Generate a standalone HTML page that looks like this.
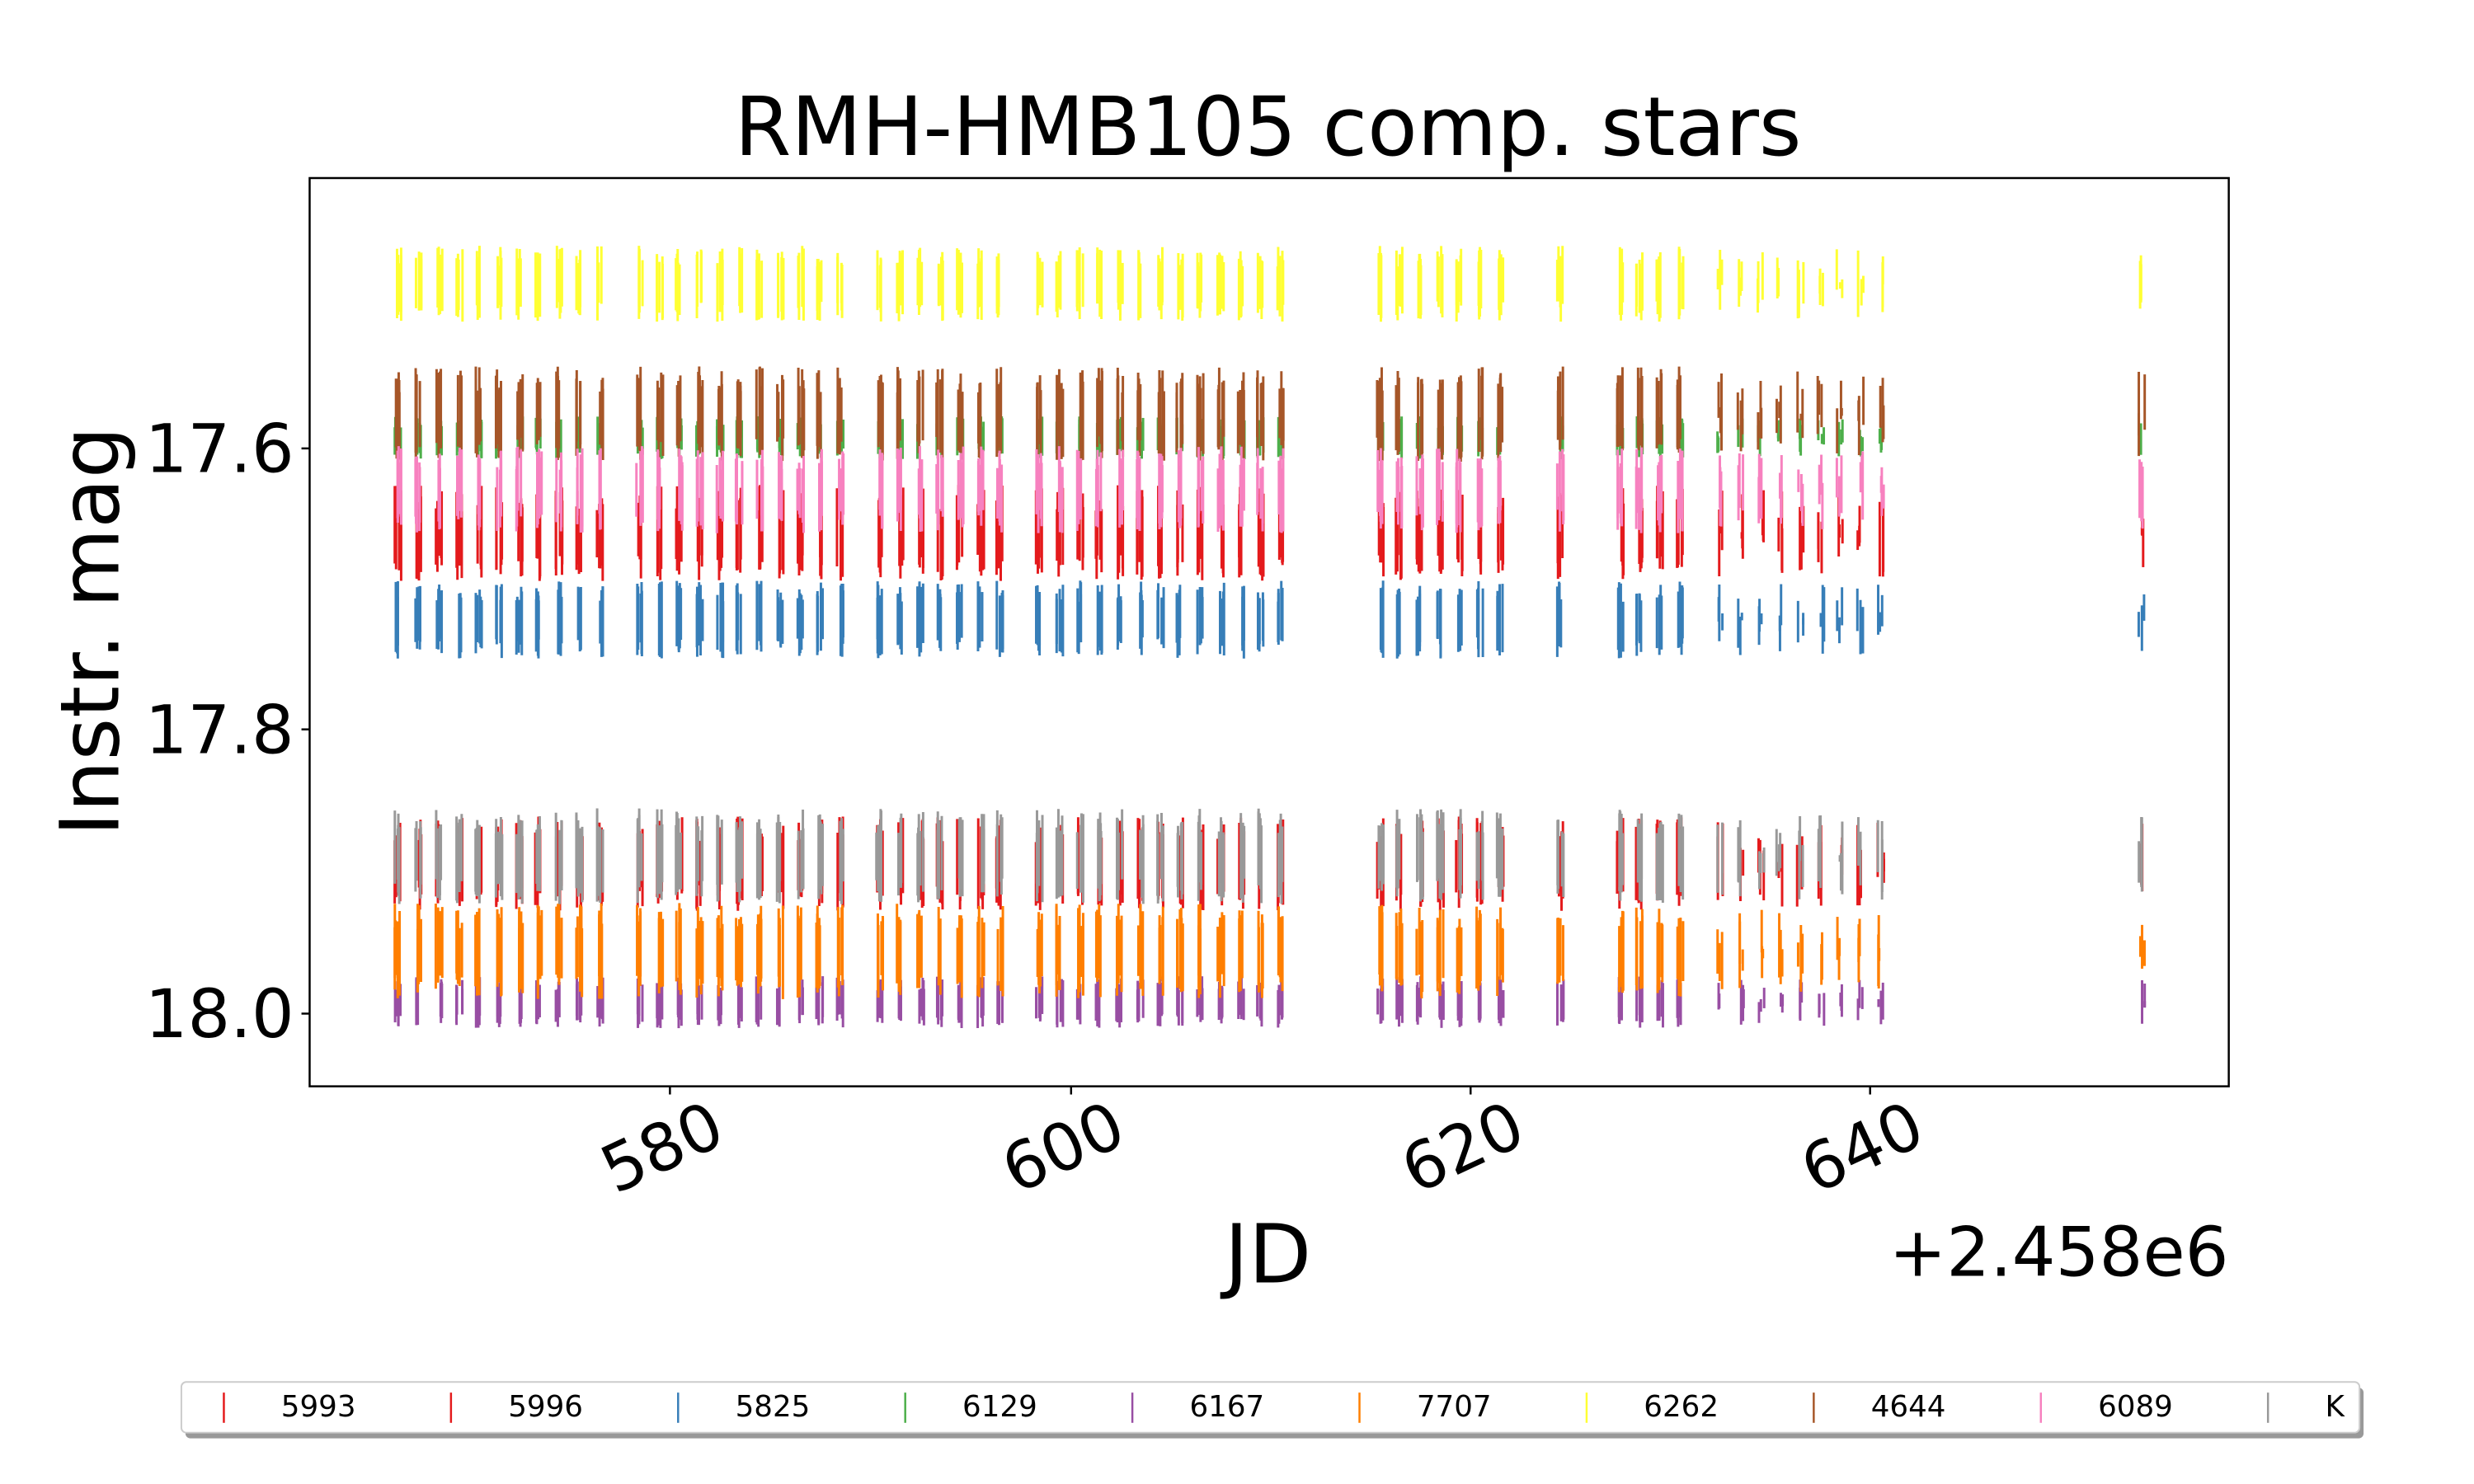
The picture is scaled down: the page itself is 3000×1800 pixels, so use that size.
<!DOCTYPE html>
<html><head><meta charset="utf-8"><style>
html,body{margin:0;padding:0;background:#fff;width:3000px;height:1800px;overflow:hidden}
svg{display:block}
text{font-family:"DejaVu Sans","Liberation Sans",sans-serif;fill:#000}
</style></head><body>
<svg id="s" width="3000" height="1800" xmlns="http://www.w3.org/2000/svg">
<rect width="3000" height="1800" fill="#fff"/>
<g transform="scale(0.9907)">
<text x="1552" y="190" font-size="100" text-anchor="middle">RMH-HMB105 comp. stars</text>
<g id="data"></g>
<rect x="379" y="218" width="2349" height="1112" fill="none" stroke="#000" stroke-width="2.5"/>
<g stroke="#000" stroke-width="2.5">
<line x1="369" y1="549" x2="379" y2="549"/><line x1="369" y1="893" x2="379" y2="893"/><line x1="369" y1="1241" x2="379" y2="1241"/>
<line x1="820" y1="1330" x2="820" y2="1340"/><line x1="1311" y1="1330" x2="1311" y2="1340"/><line x1="1800" y1="1330" x2="1800" y2="1340"/><line x1="2289" y1="1330" x2="2289" y2="1340"/>
</g>
<g font-size="82" text-anchor="end">
<text x="360" y="578">17.6</text><text x="360" y="922">17.8</text><text x="360" y="1270">18.0</text>
</g>
<g font-size="80" text-anchor="middle">
<text transform="translate(822,1430) rotate(-25)">580</text>
<text transform="translate(1313,1430) rotate(-25)">600</text>
<text transform="translate(1802,1430) rotate(-25)">620</text>
<text transform="translate(2291,1430) rotate(-25)">640</text>
</g>
<text x="1552" y="1570" font-size="100" text-anchor="middle">JD</text>
<text x="2728" y="1562" font-size="84" text-anchor="end">+2.458e6</text>
<text transform="translate(145,773) rotate(-90)" font-size="100" text-anchor="middle">Instr. mag</text>
<rect x="227" y="1699" width="2666" height="62" rx="6" fill="#999"/>
<rect x="222" y="1692" width="2666" height="62" rx="6" fill="#fff" stroke="#ccc" stroke-width="2"/>
<g id="leg" font-size="36"></g>
</g>
</svg>
<script>
var cols={r:"#e41a1c",b:"#377eb8",g:"#4daf4a",p:"#984ea3",o:"#ff7f00",y:"#ffff33",br:"#a65628",pk:"#f781bf",gr:"#999999"};
var leg=[["5993","r"],["5996","r"],["5825","b"],["6129","g"],["6167","p"],["7707","o"],["6262","y"],["4644","br"],["6089","pk"],["K","gr"]];
var L=document.getElementById("leg"),h="";
leg.forEach(function(e,i){var x=274+i*278;h+='<line x1="'+x+'" y1="1705" x2="'+x+'" y2="1742" stroke="'+cols[e[1]]+'" stroke-width="2.5"/>';
h+='<text x="'+(x+70)+'" y="1734">'+e[0]+'</text>';});
L.innerHTML=h;
var bands=[["r",1005,1110],["r",599,706],["b",715,802],["g",512,560],["p",1198,1256],["o",1111,1218],["y",305,390],["br",454,560],["pk",551,648],["gr",995,1102]];
var nights=[252,265,278,291,303,316,329,341,354,367,380,405,418,430,443,456,468,481,494,507,519,532,557,570,583,595,608,621,633,658,671,684,696,709,722,735,747,760,773,786,798,811,874,886,899,912,924,937,950,988,1026,1038,1051,1064,1089,1102,1115,1127,1140,1153,1165,1178,1191,1356];
var seed=7;function rnd(){seed=(seed*16807)%2147483647;return seed/2147483647;}
var d="";
bands.forEach(function(b){var c=cols[b[0]];
 nights.forEach(function(n){var x=n*1.933;var late=n>1080;var nl=late?3:5;
  for(var k=0;k<nl;k++){var ox=(rnd()-0.5)*8;var H=b[2]-b[1];
   var t=b[1]+rnd()*H*(late?0.5:0.3)-(late?0:H*0.05);var bt=b[2]-rnd()*H*(late?0.5:0.3)+(late?0:H*0.05);
   if(bt<t+8)bt=t+8;
   d+='<line x1="'+(x+ox).toFixed(1)+'" y1="'+t.toFixed(1)+'" x2="'+(x+ox).toFixed(1)+'" y2="'+bt.toFixed(1)+'" stroke="'+c+'" stroke-width="3"/>';}
 });});
document.getElementById("data").innerHTML=d;
</script>
</body></html>
